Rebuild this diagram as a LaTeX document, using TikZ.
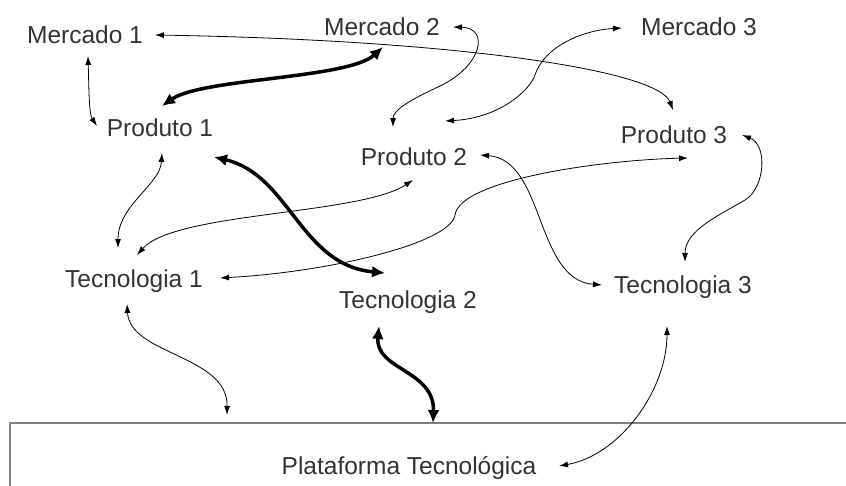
\documentclass[tikz,border=0pt]{standalone}
\usepackage{fontspec}
\setmainfont{Liberation Sans}
\usepackage{tikz}
\usetikzlibrary{positioning}
\usetikzlibrary{arrows.meta}

\begin{document}
\begin{tikzpicture}[x=1pt, y=-1pt, on grid,
    lbl/.style={text=black!80, font=\fontsize{24.5}{29}\selectfont, inner sep=0pt, text height=18pt, text depth=5pt},
    link/.style={{Latex[length=9pt,width=6pt]}-{Latex[length=9pt,width=6pt]}, line width=0.8pt},
    boldlink/.style={{Latex[length=13pt,width=12pt]}-{Latex[length=13pt,width=12pt]}, line width=3.5pt}]

    \useasboundingbox (0,0) rectangle (846,485);

    \node[lbl] (m1) at (85,37) {Mercado 1};
    \node[lbl, above right=8pt and 297pt of m1] (m2) {Mercado 2};
    \node[lbl, right=317pt of m2] (m3) {Mercado 3};

    \node[lbl, below right=93pt and 75pt of m1] (p1) {Produto 1};
    \node[lbl, below right=130pt and 32pt of m2] (p2) {Produto 2};
    \node[lbl, below left=108pt and 25pt of m3] (p3) {Produto 3};

    \node[lbl, below left=151pt and 26pt of p1] (t1) {Tecnologia 1};
    \node[lbl, below left=143pt and 6pt of p2] (t2) {Tecnologia 2};
    \node[lbl, below right=150pt and 9pt of p3] (t3) {Tecnologia 3};

    % platform box, open at the bottom and right
    \draw[black!50, line width=1.2pt] (10,490) -- (10,423) -- (852,423);
    \node[lbl, below right=166pt and 1pt of t2] (pt) {Plataforma Tecnológica};

    \draw[link] ([shift={(70,-2)}]m1.center) .. controls +(300,5) and +(-15,-40) .. ([shift={(-1,-27)}]p3.center);
    \draw[link] ([shift={(3,19)}]m1.center) .. controls +(1,35) and +(-8,-12) .. ([shift={(-63,-4)}]p1.center);
    \draw[boldlink] ([shift={(2,-24)}]p1.center) .. controls +(40,-28) and +(-35,32) .. ([shift={(1,18)}]m2.center);
    \draw[link] ([shift={(71,-2)}]m2.center) .. controls +(37,1) and +(42,-20) .. (440,86) .. controls +(-30,14) and +(0,-17) .. ([shift={(-21,-32)}]p2.center);
    \draw[link] ([shift={(-77,-1)}]m3.center) .. controls +(-37,2) and +(10,-30) .. (535,75) .. controls +(-5,15) and +(55,-3) .. ([shift={(31,-38)}]p2.center);

    \draw[link] ([shift={(2,23)}]p1.center) .. controls +(-2,32) and +(0,-43) .. ([shift={(-16,-33)}]t1.center);
    \draw[link] ([shift={(-1,21)}]p2.center) .. controls +(-53,35) and +(38,-43) .. ([shift={(3,-26)}]t1.center);
    \draw[link] ([shift={(14,21)}]p3.center) .. controls +(-88,2) and +(5,-35) .. (455,215) .. controls +(-4,28) and +(110,-6) .. ([shift={(86,-3)}]t1.center);
    \draw[boldlink] ([shift={(54,27)}]p1.center) .. controls +(76,18) and +(-85,-8) .. ([shift={(-23,-29)}]t2.center);
    \draw[link] ([shift={(66,-4)}]p2.center) .. controls +(65,5) and +(-67,-5) .. ([shift={(-81,-2)}]t3.center);
    \draw[link] ([shift={(68,-2)}]p3.center) .. controls +(26,10) and +(20,-12) .. (745,200) .. controls +(-25,15) and +(0,-32) .. ([shift={(2,-25)}]t3.center);

    \draw[link] ([shift={(-7,23)}]t1.center) .. controls +(3,51) and +(1,-60) .. ([shift={(-182,-53)}]pt.center);
    \draw[boldlink] ([shift={(-29,24)}]t2.center) .. controls +(-4,44) and +(2,-53) .. ([shift={(24,-45)}]pt.center);
    \draw[link] ([shift={(-16,39)}]t3.center) .. controls +(0,64) and +(61,-11) .. ([shift={(150,-2)}]pt.center);

\end{tikzpicture}
\end{document}
